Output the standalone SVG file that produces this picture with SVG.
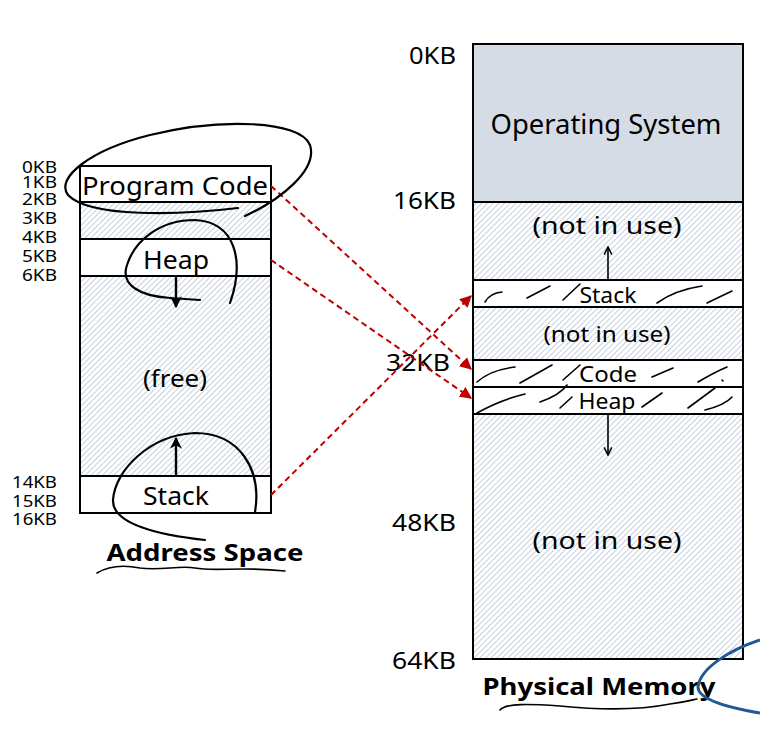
<svg xmlns="http://www.w3.org/2000/svg" width="760" height="733" viewBox="0 0 760 733">
<defs>
<pattern id="hatch" patternUnits="userSpaceOnUse" width="4" height="4" patternTransform="rotate(45)">
<rect width="4" height="4" fill="#ffffff"/>
<line x1="0" y1="0" x2="0" y2="4" stroke="#b8c4d6" stroke-width="1.6"/>
</pattern>
<marker id="redArrow" viewBox="0 0 10 10" refX="9" refY="5" markerWidth="6" markerHeight="6" orient="auto">
<path d="M0,0 L10,5 L0,10 z" fill="#c00000"/>
</marker>
<marker id="blkArrow" viewBox="0 0 10 10" refX="9" refY="5" markerWidth="5" markerHeight="5" orient="auto">
<path d="M0,0 L10,5 L0,10 L3,5 z" fill="#000"/>
</marker>
<marker id="thinArrow" viewBox="0 0 10 10" refX="9" refY="5" markerWidth="6" markerHeight="6" orient="auto">
<path d="M1,1 L9,5 L1,9" fill="none" stroke="#000" stroke-width="1.6"/>
</marker>
</defs>
<style>
text{font-family:"Noto Sans","Open Sans","DejaVu Sans",sans-serif;fill:#000}
.kb{font-size:17px;text-anchor:end}
.kb2{font-size:23px;text-anchor:end}
.lbl{text-anchor:middle}
.seg{stroke:#000;stroke-width:2}
.hatch{fill:url(#hatch)}
.white{fill:#fff}
.ink{fill:none;stroke:#000;stroke-width:2.2;stroke-linecap:round}
.scr{fill:none;stroke:#000;stroke-width:1.6;stroke-linecap:round}
.red{fill:none;stroke:#c00000;stroke-width:2;stroke-dasharray:6,4}
.title{font-weight:bold;font-size:24px;text-anchor:middle}
</style>
<rect width="760" height="733" fill="#fff"/>

<g id="address-space">
<rect x="80" y="166" width="191" height="36" class="white seg"/>
<rect x="80" y="202" width="191" height="37" class="hatch seg"/>
<rect x="80" y="239" width="191" height="37" class="white seg"/>
<rect x="80" y="276" width="191" height="200" class="hatch seg"/>
<rect x="80" y="476" width="191" height="37" class="white seg"/>
<text x="175" y="195" class="lbl" font-size="26" textLength="186" lengthAdjust="spacingAndGlyphs">Program Code</text>
<text x="176" y="269" class="lbl" font-size="25" textLength="66" lengthAdjust="spacingAndGlyphs">Heap</text>
<text x="175" y="387" class="lbl" font-size="24" textLength="64" lengthAdjust="spacingAndGlyphs">(free)</text>
<text x="176" y="505" class="lbl" font-size="25" textLength="66" lengthAdjust="spacingAndGlyphs">Stack</text>
<line x1="176" y1="276" x2="176" y2="307" stroke="#000" stroke-width="2.4" marker-end="url(#blkArrow)"/>
<line x1="176" y1="476" x2="176" y2="438" stroke="#000" stroke-width="2.4" marker-end="url(#blkArrow)"/>
</g>

<g id="address-labels">
<text x="57" y="173" class="kb" textLength="35" lengthAdjust="spacingAndGlyphs">0KB</text>
<text x="57" y="188" class="kb" textLength="35" lengthAdjust="spacingAndGlyphs">1KB</text>
<text x="57" y="205" class="kb" textLength="35" lengthAdjust="spacingAndGlyphs">2KB</text>
<text x="57" y="224" class="kb" textLength="35" lengthAdjust="spacingAndGlyphs">3KB</text>
<text x="57" y="243" class="kb" textLength="35" lengthAdjust="spacingAndGlyphs">4KB</text>
<text x="57" y="262" class="kb" textLength="35" lengthAdjust="spacingAndGlyphs">5KB</text>
<text x="57" y="281" class="kb" textLength="35" lengthAdjust="spacingAndGlyphs">6KB</text>
<text x="57" y="488" class="kb" textLength="45" lengthAdjust="spacingAndGlyphs">14KB</text>
<text x="57" y="507" class="kb" textLength="45" lengthAdjust="spacingAndGlyphs">15KB</text>
<text x="57" y="525" class="kb" textLength="45" lengthAdjust="spacingAndGlyphs">16KB</text>
<text x="205" y="561" class="title" textLength="197" lengthAdjust="spacingAndGlyphs">Address Space</text>
</g>

<g id="physical-memory">
<rect x="473" y="44" width="270" height="158" fill="#d6dce5" class="seg"/>
<rect x="473" y="202" width="270" height="78" class="hatch seg"/>
<rect x="473" y="280" width="270" height="27" class="white seg"/>
<rect x="473" y="307" width="270" height="53" class="hatch seg"/>
<rect x="473" y="360" width="270" height="27" class="white seg"/>
<rect x="473" y="387" width="270" height="27" class="white seg"/>
<rect x="473" y="414" width="270" height="245" class="hatch seg"/>
<text x="606" y="134" class="lbl" font-size="27" textLength="231" lengthAdjust="spacingAndGlyphs">Operating System</text>
<text x="607" y="234" class="lbl" font-size="24" textLength="149" lengthAdjust="spacingAndGlyphs">(not in use)</text>
<text x="608" y="303" class="lbl" font-size="22" textLength="57" lengthAdjust="spacingAndGlyphs">Stack</text>
<text x="607" y="342" class="lbl" font-size="21" textLength="127" lengthAdjust="spacingAndGlyphs">(not in use)</text>
<text x="608" y="382" class="lbl" font-size="22" textLength="58" lengthAdjust="spacingAndGlyphs">Code</text>
<text x="607" y="409" class="lbl" font-size="22" textLength="57" lengthAdjust="spacingAndGlyphs">Heap</text>
<text x="607" y="549" class="lbl" font-size="24" textLength="149" lengthAdjust="spacingAndGlyphs">(not in use)</text>
<line x1="608" y1="280" x2="608" y2="247" stroke="#000" stroke-width="1.6" marker-end="url(#thinArrow)"/>
<line x1="608" y1="414" x2="608" y2="455" stroke="#000" stroke-width="1.6" marker-end="url(#thinArrow)"/>
</g>

<g id="physical-labels">
<text x="456" y="64" class="kb2" textLength="47" lengthAdjust="spacingAndGlyphs">0KB</text>
<text x="456" y="209" class="kb2" textLength="63" lengthAdjust="spacingAndGlyphs">16KB</text>
<text x="450" y="371" class="kb2" textLength="64" lengthAdjust="spacingAndGlyphs">32KB</text>
<text x="456" y="531" class="kb2" textLength="64" lengthAdjust="spacingAndGlyphs">48KB</text>
<text x="456" y="669" class="kb2" textLength="64" lengthAdjust="spacingAndGlyphs">64KB</text>
<text x="599" y="695" class="title" textLength="233" lengthAdjust="spacingAndGlyphs">Physical Memory</text>
</g>

<g id="connectors">
<line x1="271" y1="186" x2="471" y2="369" class="red" marker-end="url(#redArrow)"/>
<line x1="271" y1="260" x2="471" y2="398" class="red" marker-end="url(#redArrow)"/>
<line x1="271" y1="495" x2="471" y2="296" class="red" marker-end="url(#redArrow)"/>
</g>

<g id="annotations">
<path class="ink" d="M238 208 C180 215 90 218 68 195 C55 178 90 150 150 135 C220 118 300 120 310 145 C318 170 280 200 245 216"/>
<path class="ink" d="M200 300 L170 298 C140 296 120 285 127 265 C135 240 160 220 195 220 C235 222 245 260 230 303"/>
<path class="ink" d="M255 512 C262 470 240 433 195 433 C150 435 115 470 113 500 C112 525 160 535 205 540"/>
<path class="scr" d="M97 573 C110 565 125 565 140 568 C160 571 180 565 195 568 C215 572 240 566 285 571"/>
<path class="scr" d="M500 710 C505 703 530 704 560 706 C600 710 640 710 670 704 C685 702 692 700 697 699"/>
<path d="M760 640 C730 650 700 668 698 687 C698 700 730 708 760 713" fill="none" stroke="#1f5a96" stroke-width="3"/>
<path class="scr" d="M485 302 Q490 293 502 292 M527 298 L550 286 M563 300 L580 284 M657 303 Q675 290 702 286 M707 303 L732 291"/>
<path class="scr" d="M477 382 Q490 370 515 367 M520 383 L552 365 M563 380 L580 365 M652 377 L673 368 M698 382 Q715 372 727 367 M722 380 L723 381"/>
<path class="scr" d="M477 413 Q500 400 525 394 M540 402 Q560 395 567 385 M560 408 L572 397 M642 407 L662 393 M688 408 L715 388 M705 410 Q725 405 732 397"/>
</g>
</svg>
